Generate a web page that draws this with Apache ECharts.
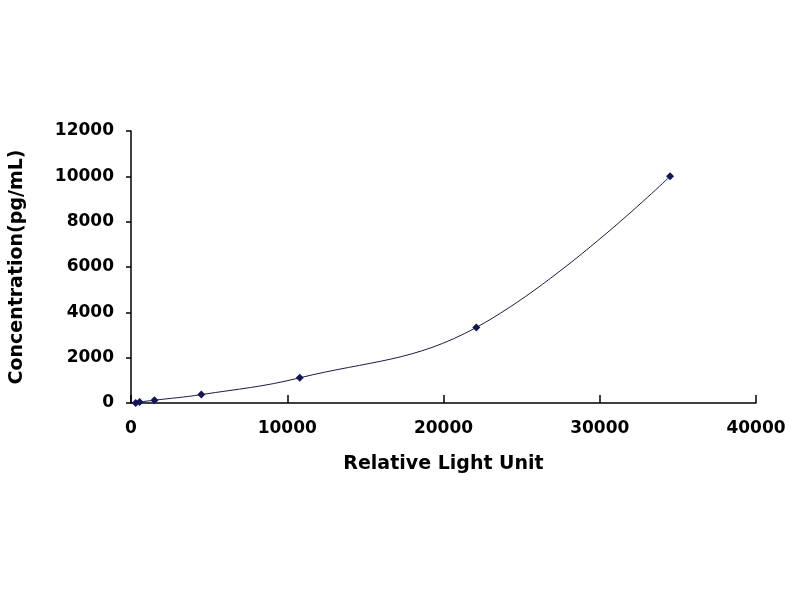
<!DOCTYPE html>
<html>
<head>
<meta charset="utf-8">
<script src="https://cdn.jsdelivr.net/npm/echarts@6/dist/echarts.min.js"></script>
<style>
  html, body { margin: 0; padding: 0; background: #fff; }
  #chart { width: 800px; height: 600px; }
</style>
</head>
<body>
<div id="chart"></div>
<script>
// standard curve: relative light unit vs concentration
var rlu = [300, 550, 1500, 4500, 10800, 22100, 34500];
var conc = [0, 41, 123, 370, 1111, 3333, 10000];
var xTicks = [0, 10000, 20000, 30000, 40000];
var yTicks = [0, 2000, 4000, 6000, 8000, 10000, 12000];

var points = rlu.map(function(v, i){ return [v, conc[i]]; });

var chart = echarts.init(document.getElementById('chart'));
var font = '"DejaVu Sans", sans-serif';
var plain = function(v){ return String(v); };
chart.setOption({
  animation: false,
  backgroundColor: '#fff',
  grid: { left: 130, right: 44, top: 131, bottom: 197 },
  xAxis: {
    type: 'value',
    min: xTicks[0], max: xTicks[xTicks.length - 1], interval: 10000,
    name: 'Relative Light Unit',
    nameLocation: 'middle', nameGap: 52,
    nameTextStyle: { color: '#000', fontFamily: font, fontWeight: 'bold', fontSize: 19 },
    axisLine: { lineStyle: { color: '#000', width: 1.5 } },
    axisTick: { show: true, inside: true, length: 8, lineStyle: { color: '#000', width: 1.5 } },
    axisLabel: { color: '#000', fontFamily: font, fontWeight: 'bold', fontSize: 17, margin: 17, formatter: plain },
    splitLine: { show: false }
  },
  yAxis: {
    type: 'value',
    min: yTicks[0], max: yTicks[yTicks.length - 1], interval: 2000,
    name: 'Concentration(pg/mL)',
    nameLocation: 'middle', nameGap: 104,
    nameTextStyle: { color: '#000', fontFamily: font, fontWeight: 'bold', fontSize: 19 },
    axisLine: { show: true, lineStyle: { color: '#000', width: 1.5 } },
    axisTick: { show: true, length: 5, lineStyle: { color: '#000', width: 1.5 } },
    axisLabel: { color: '#000', fontFamily: font, fontWeight: 'bold', fontSize: 17, margin: 17, formatter: plain },
    splitLine: { show: false }
  },
  series: [{
    type: 'line',
    data: points,
    smooth: 0.4,
    symbol: 'diamond',
    symbolSize: 8,
    itemStyle: { color: '#14145a' },
    lineStyle: { color: '#1c1c44', width: 1 }
  }]
});
</script>
</body>
</html>
